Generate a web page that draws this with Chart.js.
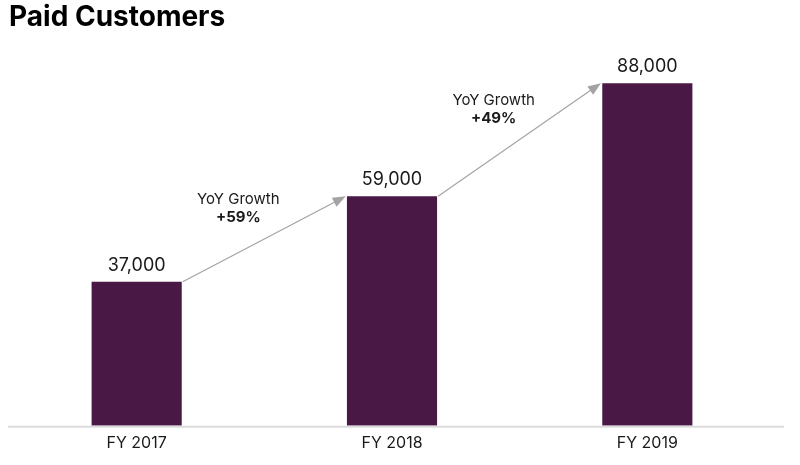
<!DOCTYPE html>
<html>
<head>
<meta charset="utf-8">
<script src="https://cdn.jsdelivr.net/npm/chart.js@4"></script>
<style>
  html,body{margin:0;padding:0;background:#fff;}
  #wrap{width:800px;height:465px;}
</style>
</head>
<body>
<div id="wrap"><canvas id="chart"></canvas></div>
<script>
const years = ["FY 2017","FY 2018","FY 2019"];
const customers = [37000, 59000, 88000];
const growthLabels = ["+59%","+49%"];

const barColor = "#4a1845";
const fontFam = "Inter, 'Open Sans', sans-serif";

// value labels above each bar + growth arrows between bar tops
const annotate = {
  id: "annotate",
  afterDatasetsDraw(chart){
    const ctx = chart.ctx;
    const bars = chart.getDatasetMeta(0).data;
    ctx.save();
    ctx.fillStyle = "#1a1a1a";
    ctx.textAlign = "center";
    ctx.textBaseline = "alphabetic";
    ctx.font = "18px " + fontFam;
    bars.forEach((b,i)=>{
      ctx.fillText(customers[i].toLocaleString("en-US"), b.x, b.y - 11);
    });

    for(let i=0;i<bars.length-1;i++){
      const a = bars[i], n = bars[i+1];
      const x1 = a.x + a.width/2 + 1, y1 = a.y;
      const x2 = n.x - n.width/2 - 3, y2 = n.y + 1;
      ctx.strokeStyle = "#a3a3a3";
      ctx.fillStyle = "#a3a3a3";
      ctx.lineWidth = 1.2;
      ctx.beginPath();
      ctx.moveTo(x1,y1);
      ctx.lineTo(x2,y2);
      ctx.stroke();
      const ang = Math.atan2(y2-y1, x2-x1);
      const len = 11, half = 5;
      ctx.beginPath();
      ctx.moveTo(x2 + 2*Math.cos(ang), y2 + 2*Math.sin(ang));
      ctx.lineTo(x2 - len*Math.cos(ang) - half*Math.sin(ang), y2 - len*Math.sin(ang) + half*Math.cos(ang));
      ctx.lineTo(x2 - len*Math.cos(ang) + half*Math.sin(ang), y2 - len*Math.sin(ang) - half*Math.cos(ang));
      ctx.closePath();
      ctx.fill();

      const mx = (x1+x2)/2 - 25, my = (y1+y2)/2;
      ctx.fillStyle = "#1a1a1a";
      ctx.textBaseline = "middle";
      ctx.font = "15px " + fontFam;
      ctx.fillText("YoY Growth", mx, my - 40);
      ctx.font = "bold 15px " + fontFam;
      ctx.fillText(growthLabels[i], mx, my - 22);
      ctx.textBaseline = "alphabetic";
    }

    // axis line runs a bit past the last category in the original
    const area = chart.chartArea;
    ctx.strokeStyle = "#dcdcdc";
    ctx.lineWidth = 2;
    ctx.beginPath();
    ctx.moveTo(area.left - 1, area.bottom + 1);
    ctx.lineTo(area.right + 9, area.bottom + 1);
    ctx.stroke();
    ctx.restore();
  }
};

new Chart(document.getElementById("chart"), {
  type: "bar",
  data: {
    labels: years,
    datasets: [{
      data: customers,
      backgroundColor: barColor,
      categoryPercentage: 1,
      barPercentage: 0.353
    }]
  },
  options: {
    responsive: true,
    maintainAspectRatio: false,
    animation: false,
    layout: { padding: { left: 9, right: 25, top: 0, bottom: 4 } },
    plugins: {
      legend: { display: false },
      tooltip: { enabled: false },
      title: {
        display: true,
        text: "Paid Customers",
        align: "start",
        color: "#000",
        font: { family: fontFam, size: 28, weight: "bold", lineHeight: 1.2 },
        padding: { top: 1, bottom: 2 }
      }
    },
    scales: {
      x: {
        grid: { display: false, drawTicks: false },
        border: { display: false },
        ticks: { color: "#1a1a1a", padding: 8, font: { family: fontFam, size: 16 } }
      },
      y: {
        display: false,
        min: 0,
        max: 100000
      }
    }
  },
  plugins: [annotate]
});
</script>
</body>
</html>
